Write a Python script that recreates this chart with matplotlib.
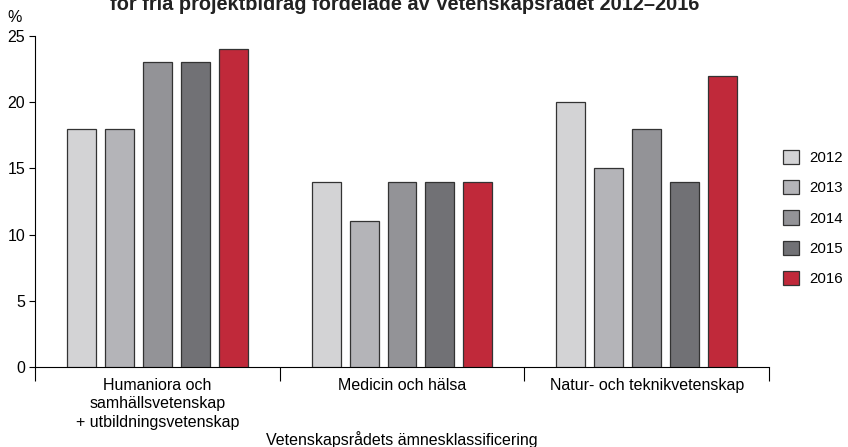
import matplotlib
matplotlib.use("Agg")
import matplotlib.pyplot as plt
import numpy as np
from matplotlib.patches import Patch

plt.rcParams['font.family'] = ['Liberation Sans', 'DejaVu Sans']

categories = ["Humaniora och\nsamhällsvetenskap\n+ utbildningsvetenskap",
              "Medicin och hälsa",
              "Natur- och teknikvetenskap"]
years = ["2012", "2013", "2014", "2015", "2016"]
values = {
    "2012": [18, 14, 20],
    "2013": [18, 11, 15],
    "2014": [23, 14, 18],
    "2015": [23, 14, 14],
    "2016": [24, 14, 22],
}
colors = ["#d3d3d5", "#b4b4b8", "#939397", "#717175", "#c0293a"]
yticks = [0, 5, 10, 15, 20, 25]

FS = 11.5

fig = plt.figure(figsize=(8.48, 4.47), dpi=100)
ax = fig.add_axes([35/848, 1-367/447, (769-35)/848, (367-36)/447])

x = np.arange(len(categories))
step = 0.155
width = 0.118
for i, y in enumerate(years):
    ax.bar(x + (i - 2) * step, values[y], width=width, color=colors[i],
           edgecolor="#333333", linewidth=0.9, zorder=3)

ax.set_xlim(-0.5, 2.5)
ax.set_ylim(0, 25)
ax.set_yticks(yticks)
ax.tick_params(axis='y', direction='out', length=4, width=0.8, labelsize=FS, pad=3)
ax.set_xticks(x)
ax.set_xticklabels(categories, fontsize=FS, linespacing=1.27)
ax.tick_params(axis='x', which='major', length=0, pad=8)
ax.set_xticks([-0.5, 0.5, 1.5, 2.5], minor=True)
ax.tick_params(axis='x', which='minor', direction='out', length=10, width=0.8)
for s in ['top', 'right']:
    ax.spines[s].set_visible(False)
for s in ['left', 'bottom']:
    ax.spines[s].set_linewidth(0.8)
ax.set_xlabel("Vetenskapsrådets ämnesklassificering", fontsize=FS, labelpad=1)

fig.text(15/848, 1-18/447, "%", fontsize=FS, ha='center', va='center')
fig.text(405/848, 1-10/447, "för fria projektbidrag fördelade av Vetenskapsrådet 2012–2016",
         fontsize=14.4, fontweight='bold', ha='center', va='baseline', color="#222222")

handles = [Patch(facecolor=colors[i], edgecolor="#333333", linewidth=0.9) for i in range(5)]
fig.legend(handles, years, loc='center left', bbox_to_anchor=(772/848, 1-218/447),
           frameon=False, fontsize=10.8, handlelength=1.1, handleheight=1.1,
           labelspacing=1.0, handletextpad=0.7, borderpad=0.2)

fig.savefig("out.png", dpi=100)
